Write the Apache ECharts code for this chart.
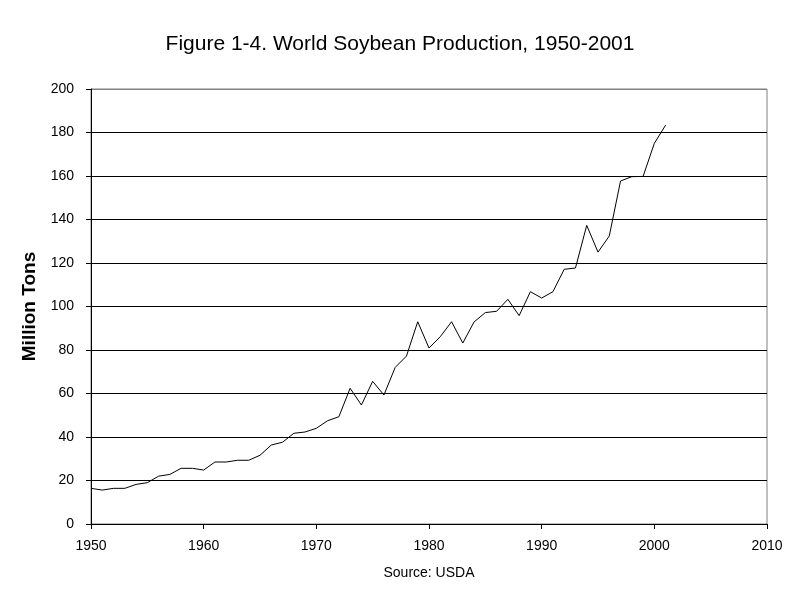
<!DOCTYPE html>
<html>
<head>
<meta charset="utf-8">
<script src="https://cdn.jsdelivr.net/npm/echarts@6/dist/echarts.min.js"></script>
<style>
  html, body { margin: 0; padding: 0; background: #fff; }
  #chart { width: 800px; height: 600px; }
</style>
</head>
<body>
<div id="chart"></div>
<script>
// years and world soybean production (million tons)
var years = [1950,1951,1952,1953,1954,1955,1956,1957,1958,1959,
             1960,1961,1962,1963,1964,1965,1966,1967,1968,1969,
             1970,1971,1972,1973,1974,1975,1976,1977,1978,1979,
             1980,1981,1982,1983,1984,1985,1986,1987,1988,1989,
             1990,1991,1992,1993,1994,1995,1996,1997,1998,1999,
             2000,2001];
var production = [16.4,15.6,16.4,16.4,18.2,19,22,22.8,25.6,25.6,
                  24.8,28.5,28.5,29.3,29.3,31.6,36.3,37.6,41.7,42.3,
                  44,47.5,49.3,62.4,54.7,65.6,59.3,72,77.2,93,
                  80.9,86.1,93,83.2,92.9,97.2,97.8,103.3,95.8,106.8,
                  103.9,106.8,117.1,117.7,137.3,125,132.4,157.7,159.7,159.8,
                  175,183.4];
var yTicks = [0,20,40,60,80,100,120,140,160,180,200];

var pts = [];
for (var i = 0; i < years.length; i++) {
  pts.push([years[i], production[i]]);
}

// grid lines black, the top one (200) grey like the plot border
var gridColors = yTicks.map(function (v) { return v === 200 ? '#808080' : '#000'; });

var font = '"Liberation Sans", Arial, sans-serif';
var myChart = echarts.init(document.getElementById('chart'));
var option = {
  backgroundColor: '#fff',
  animation: false,
  title: {
    text: 'Figure 1-4. World Soybean Production, 1950-2001',
    left: 'center',
    top: 29,
    textStyle: { fontFamily: font, fontSize: 21, fontWeight: 'normal', color: '#000' }
  },
  grid: {
    left: 91, right: 33, top: 89, bottom: 76,
    show: true, borderColor: '#808080', borderWidth: 1
  },
  xAxis: {
    type: 'value',
    min: 1950, max: 2010, interval: 10,
    name: 'Source: USDA',
    nameLocation: 'middle',
    nameGap: 42,
    nameTextStyle: { fontFamily: font, fontSize: 14, color: '#000' },
    axisLine: { lineStyle: { color: '#000', width: 1 } },
    axisTick: { show: true, length: 5, lineStyle: { color: '#000' } },
    axisLabel: {
      fontFamily: font, fontSize: 14, color: '#000', margin: 15,
      formatter: function (v) { return String(v); }
    },
    splitLine: { show: false }
  },
  yAxis: {
    type: 'value',
    min: 0, max: 200, interval: 20,
    name: 'Million Tons',
    nameLocation: 'middle',
    nameGap: 48,
    nameTextStyle: { fontFamily: font, fontSize: 19, fontWeight: 'bold', color: '#000' },
    axisLine: { show: true, lineStyle: { color: '#000', width: 1 } },
    axisTick: { show: true, length: 5, lineStyle: { color: '#000' } },
    axisLabel: { fontFamily: font, fontSize: 14, color: '#000', margin: 17 },
    splitLine: { show: true, lineStyle: { color: gridColors, width: 1 } }
  },
  series: [{
    type: 'line',
    data: pts,
    showSymbol: false,
    symbol: 'none',
    lineStyle: { color: '#000', width: 1 },
    itemStyle: { color: '#000' }
  }]
};
myChart.setOption(option);
</script>
</body>
</html>
